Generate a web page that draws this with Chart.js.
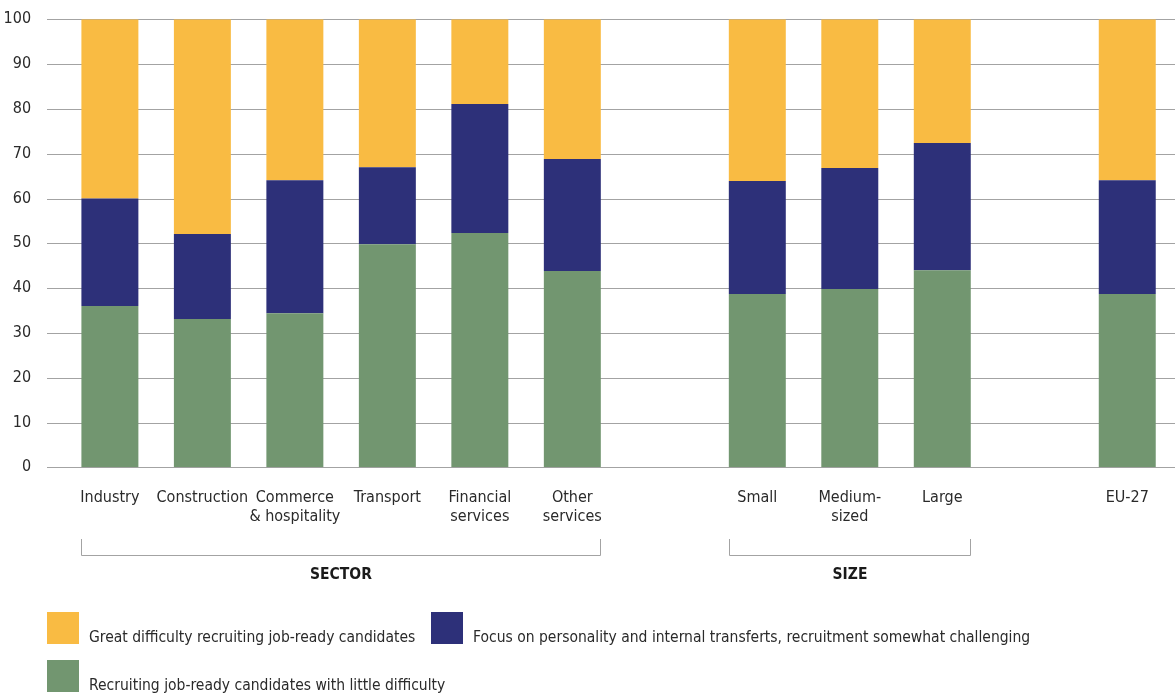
<!DOCTYPE html>
<html>
<head>
<meta charset="utf-8">
<title>Recruitment difficulty by sector and size</title>
<script src="https://cdn.jsdelivr.net/npm/chart.js@4/dist/chart.umd.min.js"></script>
<style>
  html, body { margin: 0; padding: 0; background: #ffffff; }
  #wrap { position: relative; width: 1175px; height: 697px; }
  canvas { display: block; }
</style>
</head>
<body>
<div id="wrap"><canvas id="chart" width="1175" height="697"></canvas></div>
<script>
// Categories (empty entries leave a gap between the groups)
const categories = [
  'Industry', 'Construction', ['Commerce', '& hospitality'], 'Transport',
  ['Financial', 'services'], ['Other', 'services'], '',
  'Small', ['Medium-', 'sized'], 'Large', '',
  'EU-27'
];

// Shares of firms, in per cent
const littleDifficulty = [36, 33.1, 34.4, 49.8, 52.3, 43.8, null, 38.7, 39.8, 44, null, 38.7];
const somewhatChallenging = [24, 19, 29.7, 17.2, 28.8, 25, null, 25.2, 27, 28.4, null, 25.4];
const greatDifficulty = [40, 47.9, 35.9, 33, 18.9, 31.2, null, 36.1, 33.2, 27.6, null, 35.9];

const seriesNames = [
  'Recruiting job-ready candidates with little difficulty',
  'Focus on personality and internal transferts, recruitment somewhat challenging',
  'Great difficulty recruiting job-ready candidates'
];
const seriesColors = ['#729670', '#2D3079', '#F9BB43'];

const yTicks = [0, 10, 20, 30, 40, 50, 60, 70, 80, 90, 100];

// Group brackets below the axis: label, first and last category index
const groupLabels = ['SECTOR', 'SIZE'];
const groupFirst = [0, 7];
const groupLast = [5, 9];

const FONT = '"DejaVu Sans Condensed", "Liberation Sans Narrow", "Noto Sans", sans-serif';

// Horizontal grid lines drawn across the full width, behind the bars
const gridPlugin = {
  id: 'fullGrid',
  beforeDatasetsDraw(chart) {
    const { ctx } = chart;
    const y = chart.scales.y;
    ctx.save();
    ctx.strokeStyle = '#a3a3a3';
    ctx.lineWidth = 1;
    y.ticks.forEach(t => {
      const py = Math.round(y.getPixelForValue(t.value)) + 0.5;
      ctx.beginPath();
      ctx.moveTo(47, py);
      ctx.lineTo(chart.width, py);
      ctx.stroke();
    });
    ctx.restore();
  }
};

// Brackets grouping the categories, plus the legend at the bottom
const annotatePlugin = {
  id: 'groupsAndLegend',
  afterDraw(chart) {
    const { ctx } = chart;
    const bars = chart.getDatasetMeta(0).data;
    ctx.save();
    groupLabels.forEach((label, g) => {
      const a = bars[groupFirst[g]], b = bars[groupLast[g]];
      const left = Math.round(a.x - a.width / 2) + 0.5;
      const right = Math.round(b.x + b.width / 2) - 0.5;
      ctx.strokeStyle = '#a3a3a3';
      ctx.lineWidth = 1;
      ctx.beginPath();
      ctx.moveTo(left, 539);
      ctx.lineTo(left, 555.5);
      ctx.lineTo(right, 555.5);
      ctx.lineTo(right, 539);
      ctx.stroke();
      ctx.fillStyle = '#1a1a1a';
      ctx.font = 'bold 15.5px ' + FONT;
      ctx.textAlign = 'center';
      ctx.textBaseline = 'middle';
      ctx.fillText(label, (left + right) / 2, 575);
    });

    // Legend entries: great difficulty, somewhat challenging, little difficulty
    const entries = [
      { i: 2, x: 47, y: 612 },
      { i: 1, x: 431, y: 612 },
      { i: 0, x: 47, y: 660 }
    ];
    ctx.font = '15.5px ' + FONT;
    ctx.textAlign = 'left';
    ctx.textBaseline = 'alphabetic';
    entries.forEach(e => {
      const ds = chart.data.datasets[e.i];
      ctx.fillStyle = ds.backgroundColor;
      ctx.fillRect(e.x, e.y, 32, 32);
      ctx.fillStyle = '#2a2a2a';
      ctx.fillText(ds.label, e.x + 42, e.y + 30);
    });
    ctx.restore();
  }
};

new Chart(document.getElementById('chart'), {
  type: 'bar',
  data: {
    labels: categories,
    datasets: [
      { label: seriesNames[0], data: littleDifficulty, backgroundColor: seriesColors[0] },
      { label: seriesNames[1], data: somewhatChallenging, backgroundColor: seriesColors[1] },
      { label: seriesNames[2], data: greatDifficulty, backgroundColor: seriesColors[2] }
    ]
  },
  options: {
    responsive: false,
    devicePixelRatio: 1,
    animation: false,
    layout: { padding: { top: 19.3, right: 1.5, left: 0, bottom: 0 } },
    datasets: { bar: { barPercentage: 0.616, categoryPercentage: 1, borderWidth: 0 } },
    plugins: {
      legend: { display: false },
      tooltip: { enabled: false }
    },
    scales: {
      x: {
        stacked: true,
        grid: { display: false, drawTicks: false },
        border: { display: false },
        ticks: {
          color: '#2a2a2a',
          font: { family: FONT, size: 16 },
          padding: 21,
          autoSkip: false,
          maxRotation: 0
        },
        afterFit(scale) { scale.height = 229.7; }
      },
      y: {
        stacked: true,
        min: 0,
        max: 100,
        grid: { display: false, drawTicks: false },
        border: { display: false },
        afterBuildTicks(scale) { scale.ticks = yTicks.map(v => ({ value: v })); },
        ticks: {
          color: '#2a2a2a',
          font: { family: FONT, size: 16 },
          padding: 32.6
        },
        afterFit(scale) {
          scale.width = 63.65;
          scale.paddingTop = 0;
          scale.paddingBottom = 0;
        }
      }
    }
  },
  plugins: [gridPlugin, annotatePlugin]
});
</script>
</body>
</html>
